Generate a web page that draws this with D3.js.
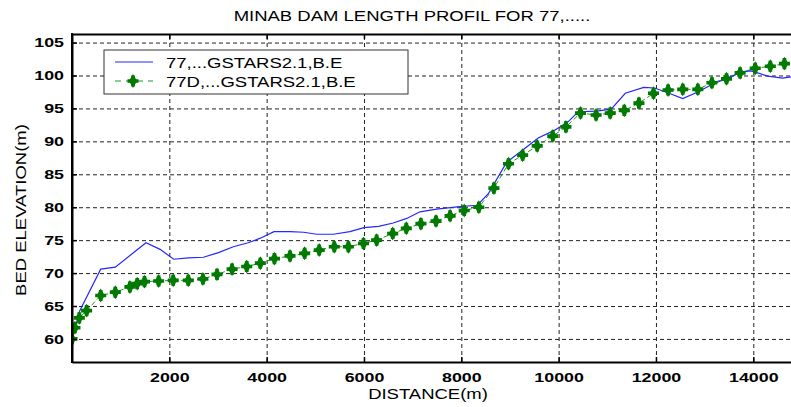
<!DOCTYPE html>
<html>
  <head>
    <title>Minab dam profile</title>
    <script src="https://cdn.jsdelivr.net/npm/d3@7"></script>
    <style>
      body { margin: 0; background: #fff; }
      text { font-family: "Liberation Sans", Arial, sans-serif; fill: #000; }
    </style>
  </head>
  <body>
    <svg width="791" height="407" id="mainsvg"></svg>
    <script>
      // series "77,...GSTARS2.1,B.E" (blue line)
      const blueDist = [0, 160, 590, 890, 1520, 1810, 2090, 2390, 2700, 3010, 3315, 3620, 3870, 4150, 4480, 4760, 5030,
        5370, 5710, 6000, 6300, 6600, 6880, 7150, 7490, 7970, 8330, 8560, 8930, 9230, 9580, 9920, 10200, 10400,
        10780, 11080, 11370, 11750, 11970, 12270, 12550, 12860, 13170, 13470, 13780, 13960, 14300, 14600, 14780];
      const blueElev = [60.0, 64.3, 70.6, 70.9, 74.6, 73.6, 72.1, 72.3, 72.4, 73.1, 74.0, 74.6, 75.3, 76.3, 76.3, 76.2, 75.9,
        75.9, 76.3, 76.9, 77.1, 77.6, 78.3, 79.3, 79.7, 80.1, 80.3, 82.1, 86.8, 88.5, 90.5, 91.7, 93.0, 94.5,
        94.6, 94.9, 97.3, 98.2, 98.1, 97.3, 96.5, 97.5, 98.7, 99.6, 100.6, 100.7, 99.9, 99.6, 99.8];

      // series "77D,...GSTARS2.1,B.E" (green markers)
      const greenDist = [0, 60, 150, 300, 590, 890, 1190, 1340, 1490, 1780, 2080, 2390, 2690, 2980, 3290, 3590,
        3870, 4160, 4480, 4780, 5080, 5390, 5680, 5990, 6260, 6590, 6870, 7170, 7480, 7770, 8060, 8360, 8670,
        8970, 9260, 9560, 9880, 10150, 10450, 10770, 11060, 11350, 11650, 11950, 12250, 12550, 12860, 13150,
        13450, 13730, 14040, 14350, 14640];
      const greenElev = [60.0, 61.7, 63.2, 64.3, 66.6, 67.1, 67.9, 68.4, 68.7, 68.8, 68.9, 68.9, 69.1, 69.8, 70.6, 71.0,
        71.5, 72.2, 72.6, 73.0, 73.5, 74.0, 74.0, 74.5, 75.0, 76.0, 76.8, 77.5, 77.9, 78.7, 79.5, 80.0, 82.9,
        86.6, 87.9, 89.3, 90.8, 92.2, 94.3, 94.0, 94.3, 94.7, 95.8, 97.3, 97.8, 97.9, 97.9, 98.9,
        99.5, 100.4, 101.1, 101.4, 101.8];

      const xTicks = [2000, 4000, 6000, 8000, 10000, 12000, 14000];
      const yTicks = [60, 65, 70, 75, 80, 85, 90, 95, 100, 105];
      const seriesNames = ["77,...GSTARS2.1,B.E", "77D,...GSTARS2.1,B.E"];

      const svg = d3.select("#mainsvg");
      const margin = { top: 34, left: 72, bottom: 45 };
      const innerWidth = 791 - margin.left; // axes are cut by the right edge of the picture
      const innerHeight = 407 - margin.top - margin.bottom;
      const wide = 1.32; // the original font is much wider than Arial

      // stretch a text along its own direction (the source font is wide)
      function widen(sel) {
        sel.each(function () {
          const len = this.getComputedTextLength();
          d3.select(this).attr("textLength", len * wide).attr("lengthAdjust", "spacingAndGlyphs");
        });
      }

      const g = svg.append("g")
        .attr("transform", `translate(${margin.left}, ${margin.top})`);

      const xScale = d3.scaleLinear().domain([0, 14775]).range([0, innerWidth]);
      const yScale = d3.scaleLinear().domain([56.5, 106.3]).range([innerHeight, 0]);

      g.append("clipPath").attr("id", "clip")
        .append("rect").attr("width", innerWidth).attr("height", innerHeight);

      // dashed grid
      g.append("g")
        .attr("transform", `translate(0, ${innerHeight})`)
        .call(d3.axisBottom(xScale).tickValues(xTicks).tickSize(-innerHeight).tickFormat(""))
        .call(a => a.select(".domain").remove())
        .call(a => a.selectAll("text").remove())
        .selectAll("line").attr("stroke", "#222").attr("stroke-dasharray", "4,3");
      g.append("g")
        .call(d3.axisLeft(yScale).tickValues(yTicks).tickSize(-innerWidth).tickFormat(""))
        .call(a => a.select(".domain").remove())
        .call(a => a.selectAll("text").remove())
        .selectAll("line").attr("stroke", "#222").attr("stroke-dasharray", "4,3");

      // lines and markers
      const plot = g.append("g").attr("clip-path", "url(#clip)");
      const line = d3.line().x(d => xScale(d[0])).y(d => yScale(d[1]));

      plot.append("path")
        .attr("d", line(greenDist.map((d, i) => [d, greenElev[i]])))
        .attr("fill", "none").attr("stroke", "#1a9a1a").attr("stroke-width", 1)
        .attr("stroke-dasharray", "5,3");

      plot.append("path")
        .attr("d", line(blueDist.map((d, i) => [d, blueElev[i]])))
        .attr("fill", "none").attr("stroke", "#2626ff").attr("stroke-width", 1.2);

      const cross = d3.symbol().type(d3.symbolCross).size(68);
      const diamond = d3.symbol().type(d3.symbolDiamond).size(56);
      function marker(sel, x, y) {
        sel.append("path").attr("d", cross()).attr("transform", `translate(${x}, ${y})`).attr("fill", "#007a00");
        sel.append("path").attr("d", diamond()).attr("transform", `translate(${x}, ${y})`).attr("fill", "#007a00");
      }
      greenDist.forEach((d, i) => marker(plot, xScale(d), yScale(greenElev[i])));

      // axes
      const xAxis = g.append("g")
        .attr("transform", `translate(0, ${innerHeight})`)
        .call(d3.axisBottom(xScale).tickValues(xTicks).tickFormat(d3.format("d"))
          .tickSizeInner(-5).tickSizeOuter(0).tickPadding(10));
      const yAxis = g.append("g")
        .call(d3.axisLeft(yScale).tickValues(yTicks).tickSizeInner(-5).tickSizeOuter(0).tickPadding(8));
      const topAxis = g.append("g")
        .call(d3.axisTop(xScale).tickValues(xTicks).tickSizeInner(-5).tickSizeOuter(0).tickFormat(""))
        .call(a => a.selectAll("text").remove());

      [xAxis, yAxis, topAxis].forEach(a => {
        a.select(".domain").attr("stroke", "#000").attr("stroke-width", 2);
        a.selectAll(".tick line").attr("stroke", "#000").attr("stroke-width", 1.5);
      });
      g.append("line").attr("x1", 0).attr("x2", 0).attr("y1", -1).attr("y2", innerHeight + 1)
        .attr("stroke", "#000").attr("stroke-width", 2);

      xAxis.selectAll(".tick text")
        .attr("font-size", 13.5).attr("font-weight", "bold").attr("font-family", null)
        .call(widen);
      yAxis.selectAll(".tick text")
        .attr("font-size", 13.5).attr("font-weight", "bold").attr("font-family", null)
        .call(widen);

      // titles
      function label(parent, str, x, y, size, rotate) {
        return parent.append("text")
          .text(str)
          .attr("font-size", size)
          .attr("text-anchor", "middle")
          .attr("transform", `translate(${x}, ${y}) rotate(${rotate || 0})`)
          .call(widen);
      }
      label(svg, "MINAB DAM LENGTH PROFIL FOR 77,.....", 412, 21, 14);
      label(svg, "DISTANCE(m)", 428, 399, 14);
      label(svg, "BED ELEVATION(m)", 26, 210, 14, -90);

      // legend
      const legend = svg.append("g").attr("transform", "translate(104, 50)");
      legend.append("rect")
        .attr("width", 304).attr("height", 44)
        .attr("fill", "#fff").attr("stroke", "#333").attr("stroke-width", 1);
      legend.append("line")
        .attr("x1", 11).attr("x2", 49).attr("y1", 12).attr("y2", 12)
        .attr("stroke", "#2626ff").attr("stroke-width", 1.2);
      legend.append("line")
        .attr("x1", 11).attr("x2", 49).attr("y1", 31).attr("y2", 31)
        .attr("stroke", "#1a9a1a").attr("stroke-width", 1).attr("stroke-dasharray", "6,5");
      marker(legend, 29, 31);
      seriesNames.forEach((name, i) => {
        legend.append("text")
          .text(name)
          .attr("font-size", 14)
          .attr("x", 62).attr("y", 18 + i * 19)
          .call(widen);
      });
    </script>
  </body>
</html>
